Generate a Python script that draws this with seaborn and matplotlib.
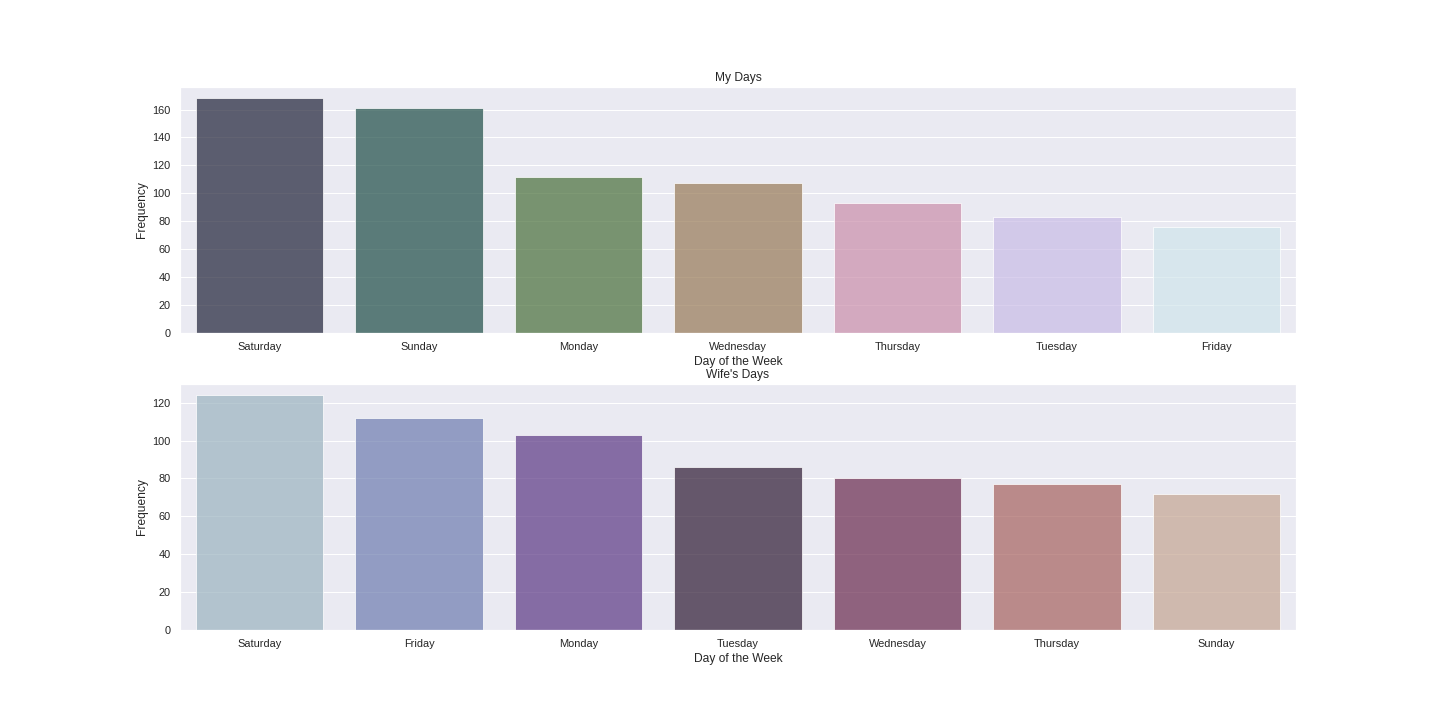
import pandas as pd
import matplotlib
matplotlib.use("Agg")
import matplotlib.pyplot as plt
import seaborn as sns

# ----------------------------------------------------------------
# Data
# ----------------------------------------------------------------
my_days = ["Saturday", "Sunday", "Monday", "Wednesday", "Thursday", "Tuesday", "Friday"]
my_counts = [168, 161, 112, 107, 93, 83, 76]

wife_days = ["Saturday", "Friday", "Monday", "Tuesday", "Wednesday", "Thursday", "Sunday"]
wife_counts = [124, 112, 103, 86, 80, 77, 72]

sns.set()
# Arial look-alike (set after sns.set, which resets the family)
plt.rcParams["font.family"] = ["Liberation Sans", "DejaVu Sans"]

mine = pd.DataFrame({"day": my_days, "count": my_counts})
wife = pd.DataFrame({"day": wife_days, "count": wife_counts})

fig, axes = plt.subplots(2, 1, figsize=(20, 10), dpi=72)
fig.subplots_adjust(left=0.125, right=0.9, top=0.8796, bottom=0.1255, hspace=0.207)

panels = [
    (axes[0], mine, my_days, "cubehelix", "My Days"),
    (axes[1], wife, wife_days, "twilight", "Wife's Days"),
]

for ax, df, order, pal, title in panels:
    sns.barplot(data=df, x="day", y="count", hue="day", order=order, hue_order=order,
                palette=pal, legend=False, alpha=0.7, edgecolor="white",
                linewidth=1, ax=ax)
    ax.set_title(title)
    ax.set_xlabel("Day of the Week")
    ax.set_ylabel("Frequency")

fig.savefig("out.png", dpi=72)
